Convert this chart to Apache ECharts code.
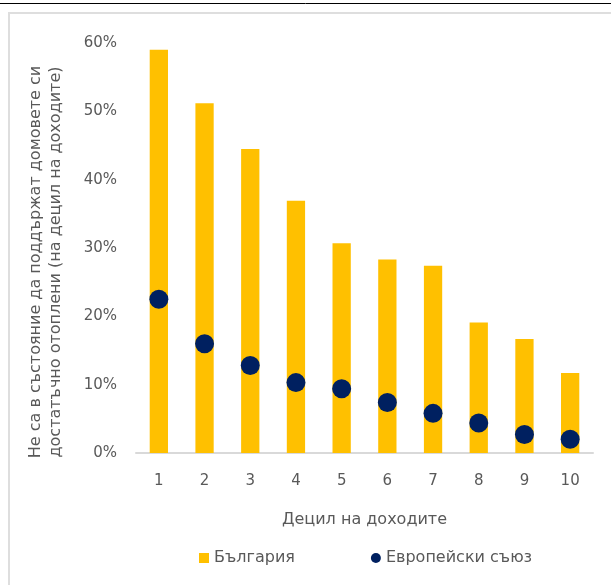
<!DOCTYPE html>
<html>
<head>
<meta charset="utf-8">
<script src="https://cdn.jsdelivr.net/npm/echarts@6/dist/echarts.min.js"></script>
<style>
  html, body { margin: 0; padding: 0; background: #fff; }
  #chart { width: 611px; height: 585px; }
</style>
</head>
<body>
<div id="chart"></div>
<script>
// децили на доходите
const deciles = ["1", "2", "3", "4", "5", "6", "7", "8", "9", "10"];
// България, % (бар)
const bulgaria = [59.0, 51.2, 44.5, 36.9, 30.7, 28.3, 27.4, 19.1, 16.7, 11.7];
// Европейски съюз, % (точки)
const eu = [22.5, 16.0, 12.8, 10.3, 9.4, 7.4, 5.8, 4.4, 2.7, 2.0];

const textGray = "#595959";
const font = "'DejaVu Sans', Verdana, sans-serif";

const chart = echarts.init(document.getElementById("chart"));

chart.setOption({
  animation: false,
  textStyle: { fontFamily: font, color: textGray },
  grid: { left: 136, right: 18, top: 43, bottom: 132 },
  graphic: [
    // тънка черна линия най-горе
    { type: "line", shape: { x1: 0, y1: 3.5, x2: 611, y2: 3.5 },
      style: { stroke: "#000", lineWidth: 1 } },
    // рамка на графиката
    { type: "rect", shape: { x: 9, y: 13, width: 620, height: 600 },
      style: { fill: "none", stroke: "#dedede", lineWidth: 2 } },
    // заглавие на оста Y (две линии)
    {
      type: "text",
      x: 46, y: 262, rotation: Math.PI / 2,
      style: {
        text: "Не са в състояние да поддържат домовете си\nдостатъчно отоплени (на децил на доходите)",
        font: "16px " + font,
        fill: textGray,
        align: "center",
        verticalAlign: "middle",
        lineHeight: 20
      }
    }
  ],
  legend: {
    left: 194, top: 545,
    itemWidth: 10, itemHeight: 10, itemGap: 76,
    textStyle: { fontFamily: font, fontSize: 16, color: textGray },
    data: [
      { name: "България", icon: "rect" },
      { name: "Европейски съюз", icon: "circle" }
    ]
  },
  xAxis: {
    type: "category",
    data: deciles,
    name: "Децил на доходите",
    nameLocation: "middle",
    nameGap: 59,
    nameTextStyle: { fontFamily: font, fontSize: 16, color: textGray },
    axisLine: { lineStyle: { color: "#d9d9d9", width: 2 } },
    axisTick: { show: false },
    axisLabel: { fontFamily: font, fontSize: 15, color: textGray, margin: 21 }
  },
  yAxis: {
    type: "value",
    min: 0, max: 60, interval: 10,
    axisLine: { show: false },
    axisTick: { show: false },
    splitLine: { show: false },
    axisLabel: { formatter: "{value}%", fontFamily: font, fontSize: 15, color: textGray, margin: 19 }
  },
  series: [
    {
      name: "България",
      type: "bar",
      data: bulgaria,
      barWidth: "40%",
      itemStyle: { color: "#FFC000" }
    },
    {
      name: "Европейски съюз",
      type: "scatter",
      data: eu,
      symbol: "circle",
      symbolSize: 19,
      itemStyle: { color: "#002060", opacity: 1 },
      z: 3
    }
  ]
});
</script>
</body>
</html>
